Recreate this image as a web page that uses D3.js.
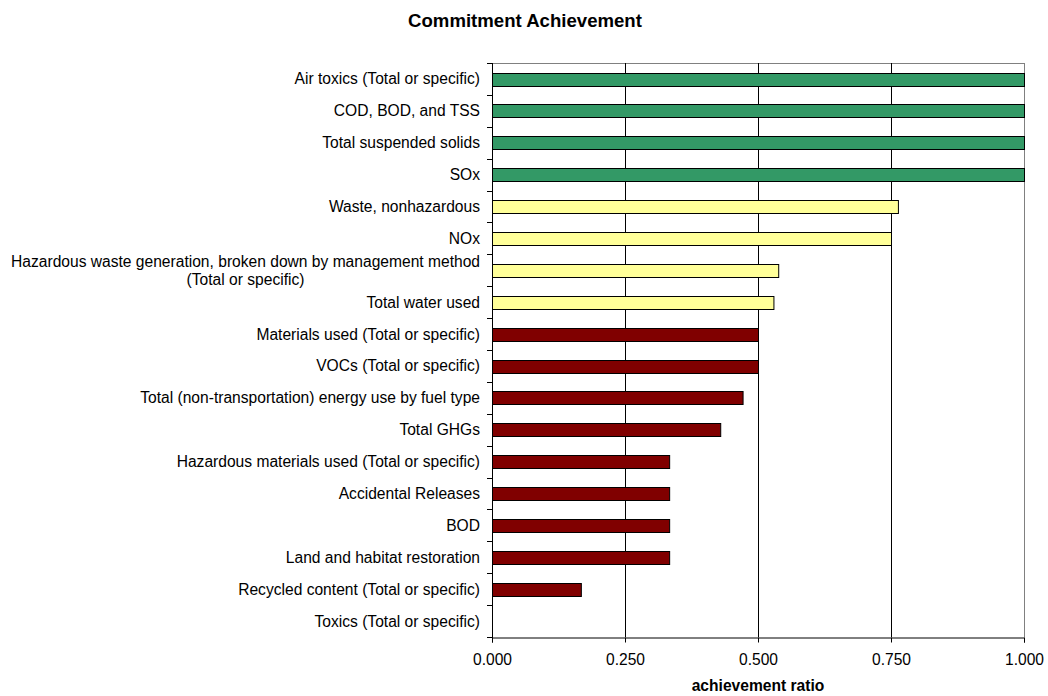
<!DOCTYPE html>
<html>
<head>
<meta charset="utf-8">
<script src="https://cdn.jsdelivr.net/npm/d3@7"></script>
<style>
  html, body { margin: 0; padding: 0; background: #fff; }
  svg { display: block; font-family: "Liberation Sans", Arial, sans-serif; }
</style>
</head>
<body>
<svg id="chart" width="1048" height="696"></svg>
<script>
// Commitment categories, top to bottom
const categories = [
  "Air toxics (Total or specific)",
  "COD, BOD, and TSS",
  "Total suspended solids",
  "SOx",
  "Waste, nonhazardous",
  "NOx",
  "Hazardous waste generation, broken down by management method\n(Total or specific)",
  "Total water used",
  "Materials used (Total or specific)",
  "VOCs (Total or specific)",
  "Total (non-transportation) energy use by fuel type",
  "Total GHGs",
  "Hazardous materials used (Total or specific)",
  "Accidental Releases",
  "BOD",
  "Land and habitat restoration",
  "Recycled content (Total or specific)",
  "Toxics (Total or specific)"
];

// Achievement ratio per category
const ratios = [
  1.000, 1.000, 1.000, 1.000,
  0.763, 0.750, 0.538, 0.529,
  0.500, 0.500, 0.471, 0.429,
  0.333, 0.333, 0.333, 0.333,
  0.167, 0.000
];

// Performance tier per category: full, partial, low
const tiers = [
  "full", "full", "full", "full",
  "partial", "partial", "partial", "partial",
  "low", "low", "low", "low",
  "low", "low", "low", "low",
  "low", "low"
];

const xTicks = [0, 0.25, 0.5, 0.75, 1.0];

const tierColor = { full: "#339966", partial: "#FFFF99", low: "#800000" };

const svg = d3.select("#chart");
const plot = { left: 492, right: 1024, top: 63, bottom: 637 };
const labelSize = 15.6;

const x = d3.scaleLinear().domain([0, 1]).range([plot.left, plot.right]);
const y = d3.scaleBand().domain(d3.range(categories.length))
  .range([plot.top, plot.bottom]).paddingInner(0.6).paddingOuter(0.3);

// Title
svg.append("text")
  .attr("x", 525).attr("y", 27)
  .attr("text-anchor", "middle")
  .attr("font-size", 18.6).attr("font-weight", "bold")
  .text("Commitment Achievement");

// Plot frame (top and right edges)
svg.append("line")
  .attr("x1", plot.left).attr("x2", plot.right)
  .attr("y1", plot.top + 0.5).attr("y2", plot.top + 0.5)
  .attr("stroke", "#808080").attr("stroke-width", 1);
svg.append("line")
  .attr("x1", plot.right + 0.5).attr("x2", plot.right + 0.5)
  .attr("y1", plot.top).attr("y2", plot.bottom)
  .attr("stroke", "#808080").attr("stroke-width", 1);

// Vertical gridlines
svg.append("g")
  .selectAll("line")
  .data(xTicks.filter(t => t > 0 && t < 1))
  .join("line")
  .attr("x1", d => Math.round(x(d)) + 0.5).attr("x2", d => Math.round(x(d)) + 0.5)
  .attr("y1", plot.top).attr("y2", plot.bottom)
  .attr("stroke", "#000").attr("stroke-width", 1);

// Bars
svg.append("g")
  .selectAll("rect")
  .data(ratios.map((v, i) => ({ v, i })).filter(d => d.v > 0))
  .join("rect")
  .attr("x", x(0) + 0.5)
  .attr("y", d => Math.round(y(d.i)) + 0.5)
  .attr("width", d => x(d.v) - x(0))
  .attr("height", Math.round(y.bandwidth()))
  .attr("fill", d => tierColor[tiers[d.i]])
  .attr("stroke", "#000").attr("stroke-width", 1);

// Bottom axis
const xAxis = d3.axisBottom(x).tickValues(xTicks)
  .tickFormat(d3.format(".3f")).tickSize(5).tickPadding(11);
const gx = svg.append("g")
  .attr("transform", `translate(0,${plot.bottom + 0.5})`)
  .call(xAxis);
gx.select(".domain").attr("stroke", "#000");
gx.selectAll(".tick line").attr("stroke", "#000");
gx.selectAll(".tick text")
  .attr("font-size", labelSize).attr("font-family", "Liberation Sans, Arial, sans-serif")
  .attr("fill", "#000");

// Left axis: band boundaries carry the ticks
const leftAxis = svg.append("g");
leftAxis.append("line")
  .attr("x1", plot.left + 0.5).attr("x2", plot.left + 0.5)
  .attr("y1", plot.top).attr("y2", plot.bottom + 5)
  .attr("stroke", "#000");
const step = (plot.bottom - plot.top) / categories.length;
leftAxis.selectAll("line.tk")
  .data(d3.range(categories.length + 1))
  .join("line").attr("class", "tk")
  .attr("x1", plot.left - 5).attr("x2", plot.left)
  .attr("y1", d => Math.round(plot.top + d * step) + 0.5)
  .attr("y2", d => Math.round(plot.top + d * step) + 0.5)
  .attr("stroke", "#000");

// Category labels, right-aligned; wrapped lines centred under the first line
const labelX = plot.left - 12;
categories.forEach((c, i) => {
  const lines = c.split("\n");
  const cy = y(i) + y.bandwidth() / 2;
  const lh = 18;
  const y0 = cy - (lines.length - 1) * lh / 2;
  const t0 = svg.append("text")
    .attr("x", labelX).attr("y", y0).attr("dy", "0.35em")
    .attr("text-anchor", "end").attr("font-size", labelSize)
    .text(lines[0]);
  if (lines.length > 1) {
    const w = t0.node().getComputedTextLength();
    lines.slice(1).forEach((ln, k) => {
      svg.append("text")
        .attr("x", labelX - w / 2).attr("y", y0 + (k + 1) * lh).attr("dy", "0.35em")
        .attr("text-anchor", "middle").attr("font-size", labelSize)
        .text(ln);
    });
  }
});

// Axis title
svg.append("text")
  .attr("x", (plot.left + plot.right) / 2).attr("y", 691)
  .attr("text-anchor", "middle")
  .attr("font-size", labelSize).attr("font-weight", "bold")
  .text("achievement ratio");
</script>
</body>
</html>
